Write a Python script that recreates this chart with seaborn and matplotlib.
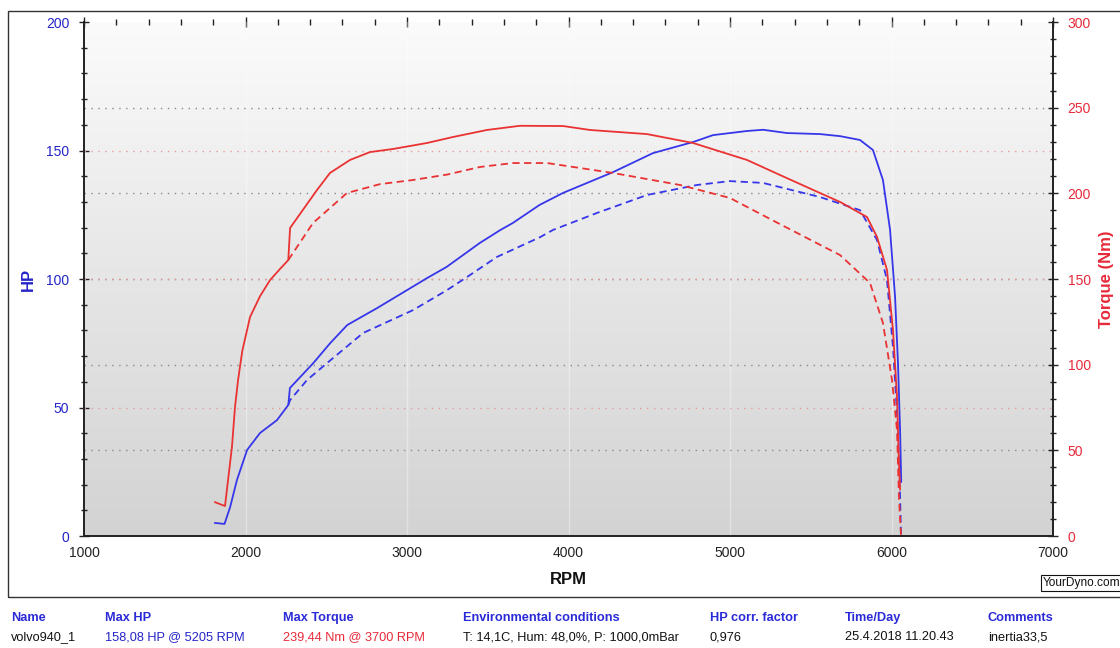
import numpy as np
import pandas as pd
import matplotlib
matplotlib.use("Agg")
import matplotlib.pyplot as plt
from matplotlib.colors import LinearSegmentedColormap
from matplotlib.patches import Rectangle
from matplotlib.ticker import MultipleLocator
import seaborn as sns

# ---- dyno run data -------------------------------------------------------
# corrected power (solid blue)
rpm_hp = [1810, 1870, 1905, 1947, 2010, 2090, 2195, 2265, 2275, 2420, 2525,
          2630, 2815, 3125, 3245, 3450, 3576, 3655, 3820, 3966, 4276, 4523,
          4771, 4895, 5105, 5205, 5353, 5557, 5681, 5805, 5885, 5947, 5991,
          6022, 6040, 6053, 6060]
hp = [5.1, 4.7, 11.3, 21.8, 33.5, 40.1, 45.1, 51.0, 57.6, 67.3, 75.1,
      82.1, 88.7, 100.4, 104.7, 114.0, 119.0, 121.8, 128.8, 133.5, 141.6, 149.0,
      153.3, 156.0, 157.6, 158.08, 156.8, 156.4, 155.6, 154.1, 150.2, 138.5, 119.1,
      93.0, 67.3, 41.2, 21.0]

# torque (solid red)
rpm_tq = [1810, 1873, 1892, 1916, 1935, 1954, 1980, 2028, 2090, 2152, 2210,
          2265, 2276, 2443, 2523, 2647, 2771, 2913, 3124, 3285, 3495, 3700,
          3966, 4133, 4486, 4771, 5105, 5310, 5557, 5681, 5848, 5910, 5972,
          6009, 6034, 6046, 6053]
tq = [19.8, 17.5, 32.7, 51.9, 75.3, 91.1, 108.0, 127.8, 140.0, 149.4, 155.5,
      161.1, 179.8, 202.0, 211.9, 219.5, 224.1, 225.9, 229.4, 232.9, 237.0, 239.44,
      239.3, 237.0, 234.6, 229.4, 219.5, 210.7, 200.2, 195.0, 186.2, 174.6, 155.3,
      120.2, 81.1, 42.6, 27.0]

# comparison run (dashed)
rpm_hp2 = [2265, 2276, 2381, 2505, 2728, 3037, 3248, 3372, 3557, 3824, 3904,
           4176, 4486, 4796, 5000, 5204, 5557, 5805, 5910, 5972, 6009, 6034,
           6053, 6059]
hp2 = [51.0, 52.9, 60.7, 67.3, 79.0, 87.9, 95.7, 100.8, 108.6, 116.3, 119.1,
       125.7, 132.7, 136.6, 138.1, 137.4, 131.9, 126.8, 115.2, 99.6, 73.5, 47.9,
       15.2, 0.0]

rpm_tq2 = [2265, 2418, 2628, 2833, 3037, 3250, 3452, 3656, 3867, 4276, 4690,
           5000, 5310, 5557, 5681, 5867, 5947, 6003, 6034, 6046, 6059]
tq2 = [161.1, 182.7, 200.2, 205.4, 207.8, 211.0, 215.4, 217.7, 217.7, 211.9, 204.9,
       197.3, 182.0, 170.0, 164.0, 147.7, 124.3, 91.1, 61.9, 22.8, 0.0]

x_ticks = [1000, 2000, 3000, 4000, 5000, 6000, 7000]
hp_ticks = [0, 50, 100, 150, 200]
tq_ticks = [0, 50, 100, 150, 200, 250, 300]

headers = ["Name", "Max HP", "Max Torque", "Environmental conditions",
           "HP corr. factor", "Time/Day", "Comments"]
values = ["volvo940_1", "158,08 HP @ 5205 RPM", "239,44 Nm @ 3700 RPM",
          "T: 14,1C, Hum: 48,0%, P: 1000,0mBar", "0,976", "25.4.2018 11.20.43",
          "inertia33,5"]

# ---- styling ---------------------------------------------------------------
sns.set_style("white")
plt.rcParams["font.family"] = ["Liberation Sans", "DejaVu Sans"]

BLUE = "#3636ea"
RED = "#ea3232"
BLUE_TXT = "#2424c8"
RED_TXT = "#e62a3a"
HDR = "#2a2ad8"

fig = plt.figure(figsize=(11.2, 6.48), dpi=100)
fig.patch.set_facecolor("white")
ax = fig.add_axes([0.075, 0.1728, 0.8652, 0.7932])
ax2 = ax.twinx()

ax.set_xlim(1000, 7000)
ax.set_ylim(0, 200)
ax2.set_ylim(0, 300)

# vertical gradient background
grad = np.linspace(0, 1, 256).reshape(-1, 1)
cmap = LinearSegmentedColormap.from_list("bg", ["#d3d3d3", "#e6e6e6", "#fbfbfb"])
ax.imshow(grad, extent=[0, 1, 0, 1], transform=ax.transAxes, aspect="auto",
          cmap=cmap, origin="lower", zorder=0, interpolation="bicubic")

# grid: faint verticals, grey dotted torque lines, pink dotted HP lines
for xv in x_ticks[1:-1]:
    ax.axvline(xv, color="white", lw=1.0, alpha=0.35, zorder=1)
for t in tq_ticks[1:-1]:
    ax.axhline(t * 200 / 300, color="#8a8a8a", lw=1.0, ls=(0, (1, 4)), zorder=1)
for h in hp_ticks[1:-1]:
    ax.axhline(h, color="#e89a9a", lw=1.0, ls=(0, (1, 4)), zorder=1)

df_hp = pd.DataFrame({"rpm": rpm_hp, "val": hp})
df_tq = pd.DataFrame({"rpm": rpm_tq, "val": tq})
df_hp2 = pd.DataFrame({"rpm": rpm_hp2, "val": hp2})
df_tq2 = pd.DataFrame({"rpm": rpm_tq2, "val": tq2})

sns.lineplot(data=df_hp2, x="rpm", y="val", ax=ax, color=BLUE, lw=1.3,
             linestyle=(0, (4, 2.5)), estimator=None, zorder=3)
sns.lineplot(data=df_hp, x="rpm", y="val", ax=ax, color=BLUE, lw=1.3,
             estimator=None, zorder=4)
sns.lineplot(data=df_tq2, x="rpm", y="val", ax=ax2, color=RED, lw=1.3,
             linestyle=(0, (4, 2.5)), estimator=None, zorder=3)
sns.lineplot(data=df_tq, x="rpm", y="val", ax=ax2, color=RED, lw=1.3,
             estimator=None, zorder=4)

ax.set_xlim(1000, 7000)
ax.set_ylim(0, 200)
ax2.set_ylim(0, 300)

# axes, ticks and labels
for a in (ax, ax2):
    for s in a.spines.values():
        s.set_visible(False)
ax.spines["left"].set_visible(True)
ax.spines["bottom"].set_visible(True)
ax2.spines["right"].set_visible(True)
for s in (ax.spines["left"], ax.spines["bottom"], ax2.spines["right"]):
    s.set_color("#222222")
    s.set_linewidth(1.4)

ax.set_xticks(x_ticks)
ax.xaxis.set_minor_locator(MultipleLocator(200))
ax.set_yticks(hp_ticks)
ax.yaxis.set_minor_locator(MultipleLocator(10))
ax2.set_yticks(tq_ticks)
ax2.yaxis.set_minor_locator(MultipleLocator(10))

ax.tick_params(axis="x", which="major", direction="inout", length=7, width=1,
               color="#222222", labelsize=10, labelcolor="#222222", pad=4, top=True)
ax.tick_params(axis="x", which="minor", direction="inout", length=4, width=1,
               color="#222222", top=True)
ax.tick_params(axis="y", which="major", direction="inout", length=7, width=1,
               color="#222222", labelsize=10, labelcolor=BLUE_TXT, pad=7)
ax.tick_params(axis="y", which="minor", direction="inout", length=4, width=1,
               color="#222222")
ax2.tick_params(axis="y", which="major", direction="inout", length=7, width=1,
                color="#222222", labelsize=10, labelcolor=RED_TXT, pad=7)
ax2.tick_params(axis="y", which="minor", direction="inout", length=4, width=1,
                color="#222222")

ax.set_xlabel("RPM", fontsize=12, fontweight="bold", color="#111111", labelpad=8)
ax.set_ylabel("HP", fontsize=12, fontweight="bold", color=BLUE_TXT, labelpad=7)
ax2.set_ylabel("Torque (Nm)", fontsize=12, fontweight="bold", color=RED_TXT,
               labelpad=6)

# chart frame and watermark box
fig.add_artist(Rectangle((0.0071, 0.0787), 1.0, 0.9043, transform=fig.transFigure,
                         fill=False, ec="#333333", lw=1.0))
fig.text(1043 / 1120, 0.1, "YourDyno.com", fontsize=8.6, color="#111111",
         ha="left", va="center",
         bbox=dict(boxstyle="square,pad=0.15", fc="white", ec="#111111", lw=0.8))

# summary table below the chart
col_x = [11, 105, 283, 463, 710, 845, 988]
val_colors = ["#111111", BLUE_TXT, RED_TXT, "#111111", "#111111", "#111111", "#111111"]
for xpx, h, v, c in zip(col_x, headers, values, val_colors):
    fig.text(xpx / 1120, 1 - 618 / 648, h, fontsize=9.2, fontweight="bold",
             color=HDR, ha="left", va="center")
    fig.text(xpx / 1120, 1 - 637 / 648, v, fontsize=9.2, color=c,
             ha="left", va="center")

fig.savefig("out.png", dpi=100)
